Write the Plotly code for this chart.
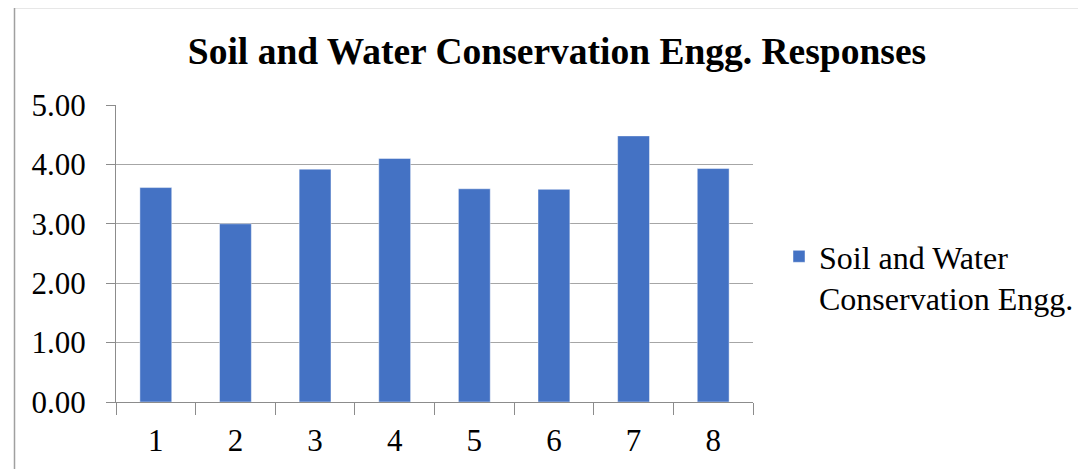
import plotly.graph_objects as go

categories = ["1", "2", "3", "4", "5", "6", "7", "8"]
values = [3.61, 3.00, 3.92, 4.10, 3.59, 3.58, 4.48, 3.93]
series_name = "Soil and Water<br>Conservation Engg."
title_text = "Soil and Water Conservation Engg. Responses"
y_ticks = [0, 1, 2, 3, 4, 5]
y_tick_labels = ["0.00", "1.00", "2.00", "3.00", "4.00", "5.00"]

OFF = 8  # page body margin
W, H = 1086 - OFF, 469 - OFF
# target screen coords of plot area: x 116..753, y 105..402.5
L, R, T, B = 116 - OFF, 1086 - 753, 105 - OFF, 469 - 402
pw = W - L - R
ph = H - T - B

FONT = "Liberation Serif"
LEG_FONT = "'Times New Roman', 'Liberation Serif', serif"


def px_x(sx):
    return (sx - OFF - L) / pw


def px_y(sy):
    return (H - B - (sy - OFF)) / ph


fig = go.Figure()
fig.add_trace(go.Bar(
    x=categories, y=values, name=series_name,
    marker=dict(color="#4472C4", line=dict(color="rgba(255,255,255,0.45)", width=1)),
    showlegend=True,
))

fig.update_layout(
    width=W, height=H,
    margin=dict(l=L, r=R, t=T, b=B, pad=0, autoexpand=False),
    paper_bgcolor="white", plot_bgcolor="white",
    font=dict(family=FONT, size=31, color="black"),
    bargap=0.6,
    title=dict(text="<b>" + title_text + "</b>", x=(557 - OFF) / W, xanchor="center",
               y=1 - (51 - OFF) / H, yanchor="middle",
               font=dict(family=FONT, size=37.5, color="black")),
    xaxis=dict(type="category", showgrid=False, showline=True,
               linecolor="#8c8c8c", linewidth=1,
               ticks="outside", tickson="boundaries", ticklen=12,
               tickcolor="#8c8c8c", tickwidth=1,
               ticklabelstandoff=11,
               tickfont=dict(family=FONT, size=31, color="black")),
    yaxis=dict(range=[0, 5], tickvals=y_ticks, ticktext=y_tick_labels,
               showgrid=True, gridcolor="#a6a6a6", gridwidth=1,
               showline=True, linecolor="#8c8c8c", linewidth=1,
               ticks="outside", ticklen=9, tickcolor="#8c8c8c",
               ticklabelstandoff=14, zeroline=False,
               tickfont=dict(family=FONT, size=31, color="black")),
    legend=dict(x=px_x(779), xanchor="left",
                y=px_y(229), yanchor="top", valign="top",
                font=dict(family=LEG_FONT, size=32, color="black"),
                bgcolor="rgba(0,0,0,0)", tracegroupgap=0),
    shapes=[dict(type="rect", xref="paper", yref="paper",
                 x0=px_x(14.5), x1=px_x(1110),
                 y0=px_y(490), y1=px_y(7.5),
                 line=dict(color="#a0a0a0", width=1.5), layer="below")],
)

fig.write_html("out.html")
